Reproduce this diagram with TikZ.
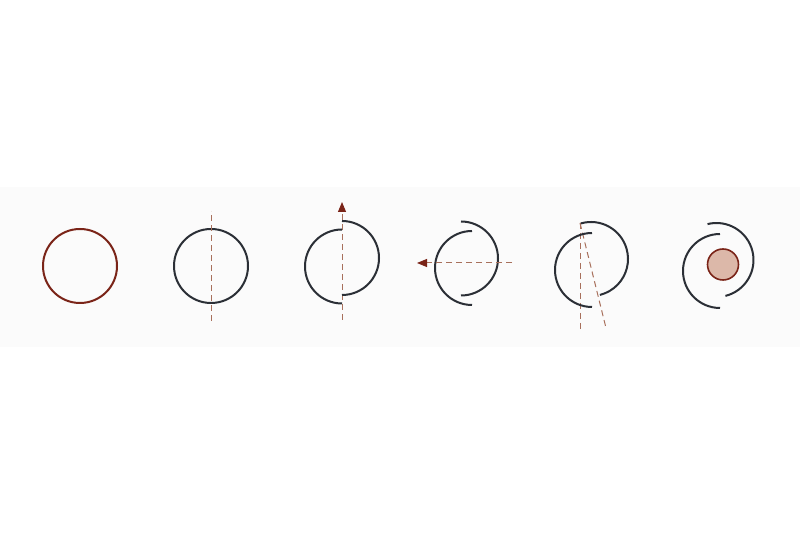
\documentclass[tikz,border=0pt]{standalone}
\usepackage{xcolor}
\usetikzlibrary{arrows.meta}

\definecolor{rimred}{HTML}{7A2418}
\definecolor{rimgrey}{HTML}{2B2F36}
\definecolor{axisbrown}{HTML}{A8705C}
\definecolor{corefill}{HTML}{DCB8A9}
\definecolor{bandgrey}{HTML}{FBFBFB}

\begin{document}
\begin{tikzpicture}[x=1pt, y=1pt]
\tikzstyle{ring}=[draw=rimgrey, line width=2pt]
\tikzstyle{axis}=[draw=axisbrown, line width=1pt, dash pattern=on 6pt off 4pt]
\tikzstyle{axisarrow}=[axis, -{Triangle[length=10pt, width=8pt, color=rimred]}]
\useasboundingbox (0,0) rectangle (800,535);
\fill[bandgrey] (0,188) rectangle (800,348);

% stage 1: the whole ring
\node (R1) at (80,269) [circle, draw=rimred, line width=2pt,
      minimum size=74pt, inner sep=0pt] {};

% stage 2: ring with cut line
\node (R2) at (211,269) [circle, ring, minimum size=74pt, inner sep=0pt] {};
\coordinate (A2t) at (211,324);
\coordinate (A2b) at (211,214);
\draw[axis] (A2b) -- (A2t);

% stage 3: halves slide along the cut
\coordinate (L3) at (342,268.5);
\coordinate (H3) at (342,277);
\coordinate (A3b) at (342,215);
\coordinate (A3t) at (342,333);
\draw[axisarrow] (A3b) -- (A3t);
\draw[ring] (L3) ++(90:37) arc[start angle=90, end angle=270, radius=37];
\draw[ring] (H3) ++(90:37) arc[start angle=90, end angle=-90, radius=37];

% stage 4: halves pulled apart sideways
\coordinate (L4) at (472,267);
\coordinate (H4) at (461,276.5);
\coordinate (A4r) at (512,272);
\coordinate (A4l) at (417,272);
\draw[ring] (L4) ++(90:37) arc[start angle=90, end angle=270, radius=37];
\draw[ring] (H4) ++(90:37) arc[start angle=90, end angle=-90, radius=37];
\draw[axisarrow] (A4r) -- (A4l);

% stage 5: right half tilted
\coordinate (L5) at (592,265);
\coordinate (H5) at (591,276);
\coordinate (A5t) at (580,312);
\coordinate (A5b) at (580,203);
\coordinate (T5b) at (606,207);
\draw[axis] (A5t) -- (A5b);
\draw[axis] (A5t) -- (T5b);
\draw[ring] (L5) ++(90:37) arc[start angle=90, end angle=270, radius=37];
\draw[ring] (H5) ++(106:37) arc[start angle=106, end angle=-76, radius=37];

% stage 6: halves round a core
\coordinate (L6) at (720,264);
\coordinate (H6) at (716.5,275);
\draw[ring] (L6) ++(90:37) arc[start angle=90, end angle=270, radius=37];
\draw[ring] (H6) ++(104:37) arc[start angle=104, end angle=-76, radius=37];
\node (C6) at (723,270.5) [circle, draw=rimred, fill=corefill, line width=1.6pt,
      minimum size=31pt, inner sep=0pt] {};
\end{tikzpicture}
\end{document}
